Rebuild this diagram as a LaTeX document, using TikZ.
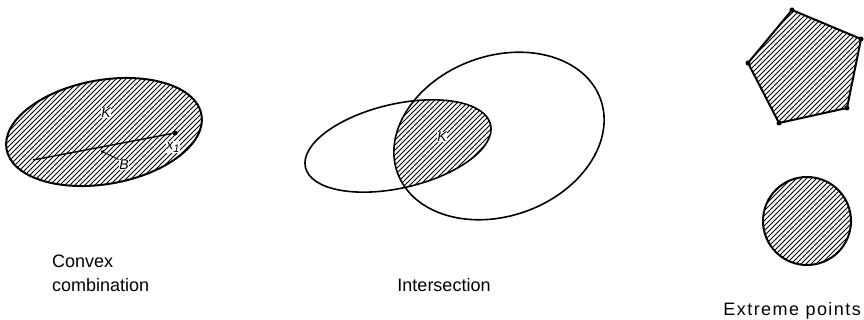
\documentclass[tikz,border=0pt]{standalone}
\usepackage{fontspec}
\setmainfont{Liberation Sans}
\begin{document}
\begin{tikzpicture}[x=1pt,y=1pt,
  outl/.style={line width=2pt,black},
  thin outl/.style={line width=1.6pt,black},
  hatchline/.style={line width=0.75pt,black},
  vdot/.style={circle,fill=black,inner sep=0pt,minimum size=5pt},
  lbl/.style={font=\fontsize{14}{14}\selectfont\itshape,inner sep=0.5pt},
  captext/.style={font=\fontsize{18}{24}\selectfont,inner sep=0pt}]
\newcommand{\hatchfill}[2]{\foreach \c in {#1,...,#2} \draw[hatchline] (\c,0) -- ++(320,320);}
\useasboundingbox (0,0) rectangle (864,320);

% ---------- Convex combination ----------
\begin{scope}
  \clip (104,188) ellipse [x radius=99, y radius=52, rotate=10];
  \hatchfill{-320,-315}{210}
\end{scope}
\draw[outl] (104,188) ellipse [x radius=99, y radius=52, rotate=10];
\coordinate (x2) at (33,160);
\node[vdot] (x1) at (175,187) {};
\draw[line width=1.4pt] (x2) -- (x1);
\node[lbl,fill=white] (K1) at (106,207) {K};
\node[lbl,fill=white] (x1l) at (173,173) {x\raisebox{-0.4ex}{\fontsize{11}{11}\selectfont 1}};
\node[lbl,fill=white] (B) at (124,155) {B};
\coordinate (bp) at (101,169);
\draw[line width=0.9pt,->] (B.north west) -- (bp);

\node[captext,anchor=base west] (c1) at (52,52) {Convex};
\node[captext,anchor=base west] (c2) at (52,28) {combination};

% ---------- Intersection ----------
\begin{scope}
  \clip (499,184) ellipse [x radius=108, y radius=80, rotate=20];
  \clip (398,174) ellipse [x radius=95, y radius=42, rotate=13];
  \hatchfill{60,65}{500}
\end{scope}
\draw[thin outl] (398,174) ellipse [x radius=95, y radius=42, rotate=13];
\draw[thin outl] (499,184) ellipse [x radius=108, y radius=80, rotate=20];
\node[lbl,fill=white] (K2) at (442,183) {K};
\node[captext,anchor=base] (c3) at (444,28) {Intersection};

% ---------- Extreme points ----------
\node[vdot] (p1) at (792,310) {};
\node[vdot] (p2) at (861,281) {};
\node[vdot] (p3) at (847,212) {};
\node[vdot] (p4) at (779,197) {};
\node[vdot] (p5) at (748,257) {};
\begin{scope}
  \clip (p1.center) -- (p2.center) -- (p3.center) -- (p4.center) -- (p5.center) -- cycle;
  \hatchfill{420,425}{870}
\end{scope}
\draw[outl,line join=round] (p1.center) -- (p2.center) -- (p3.center) -- (p4.center) -- (p5.center) -- cycle;

\begin{scope}
  \clip (807,99) circle [radius=44];
  \hatchfill{440,445}{855}
\end{scope}
\draw[outl] (807,99) circle [radius=44];

\node[captext,anchor=base east] (c4) at (861,4.5) {\addfontfeatures{LetterSpace=8}Extreme points};
\end{tikzpicture}
\end{document}
